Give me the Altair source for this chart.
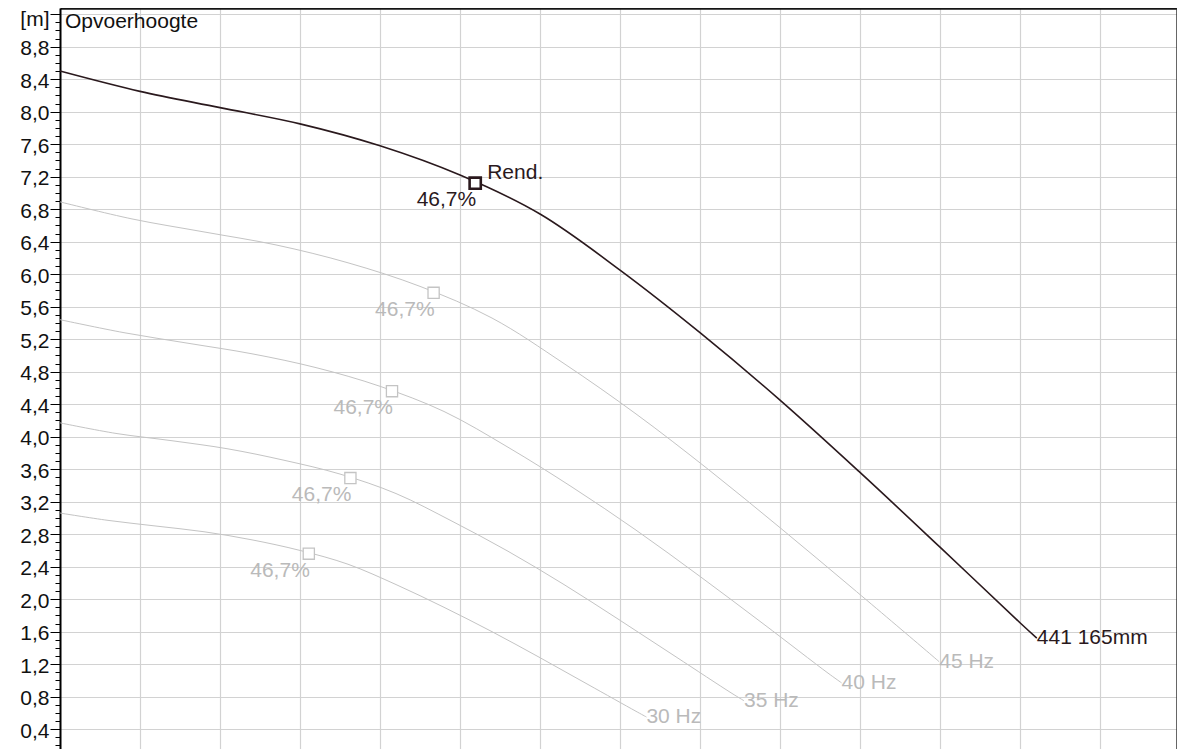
import altair as alt
import pandas as pd

# ---------------- data ----------------
curve_names = ["50 Hz", "45 Hz", "40 Hz", "35 Hz", "30 Hz"]
end_labels = ["441 165mm", "45 Hz", "40 Hz", "35 Hz", "30 Hz"]

q_50 = [0, 1, 2, 3, 4, 5, 6, 7, 8, 9, 10, 11, 12, 12.21]
h_50 = [8.50, 8.25, 8.05, 7.85, 7.58, 7.22, 6.74, 6.05, 5.28, 4.45, 3.56, 2.64, 1.71, 1.52]
q_45 = [0, 0.9, 1.8, 2.7, 3.6, 4.5, 5.4, 6.3, 7.2, 8.1, 9.0, 9.9, 10.8, 10.99]
h_45 = [6.89, 6.68, 6.52, 6.36, 6.14, 5.85, 5.46, 4.90, 4.28, 3.60, 2.88, 2.14, 1.39, 1.23]
q_40 = [0, 0.8, 1.6, 2.4, 3.2, 4.0, 4.8, 5.6, 6.4, 7.2, 8.0, 8.8, 9.6, 9.77]
h_40 = [5.44, 5.28, 5.15, 5.02, 4.85, 4.62, 4.31, 3.87, 3.38, 2.85, 2.28, 1.69, 1.09, 0.97]
q_35 = [0, 0.7, 1.4, 2.1, 2.8, 3.5, 4.2, 4.9, 5.6, 6.3, 7.0, 7.7, 8.4, 8.55]
h_35 = [4.17, 4.04, 3.95, 3.85, 3.71, 3.54, 3.30, 2.96, 2.59, 2.18, 1.74, 1.29, 0.84, 0.75]
q_30 = [0, 0.6, 1.2, 1.8, 2.4, 3.0, 3.6, 4.2, 4.8, 5.4, 6.0, 6.6, 7.2, 7.33]
h_30 = [3.06, 2.97, 2.90, 2.83, 2.73, 2.60, 2.43, 2.18, 1.90, 1.60, 1.28, 0.95, 0.62, 0.55]

bep_q = [5.19, 4.67, 4.15, 3.63, 3.11]
bep_h = [7.12, 5.77, 4.56, 3.49, 2.56]
bep_text = ["46,7%", "46,7%", "46,7%", "46,7%", "46,7%"]
bep_title = "Rend."
y_title = "Opvoerhoogte"
y_unit = "[m]"

major_ticks = [0.4, 0.8, 1.2, 1.6, 2.0, 2.4, 2.8, 3.2, 3.6, 4.0, 4.4, 4.8,
               5.2, 5.6, 6.0, 6.4, 6.8, 7.2, 7.6, 8.0, 8.4, 8.8, 9.2]
minor_ticks = [round(0.2 + 0.1 * i, 1) for i in range(91)]
x_grid = list(range(0, 14))

# ---------------- tables ----------------
curves = [(q_50, h_50), (q_45, h_45), (q_40, h_40), (q_35, h_35), (q_30, h_30)]
line_df = pd.DataFrame([
    {"curve": n, "i": i, "q": q, "h": h}
    for n, (qs, hs) in zip(curve_names, curves)
    for i, (q, h) in enumerate(zip(qs, hs))
])
end_df = pd.DataFrame({
    "curve": curve_names,
    "label": end_labels,
    "q": [qs[-1] for qs, _ in curves],
    "h": [hs[-1] for _, hs in curves],
})
bep_df = pd.DataFrame({"curve": curve_names, "q": bep_q, "h": bep_h, "label": bep_text})
title_df = pd.DataFrame({"q": [x_grid[0]], "h": [major_ticks[-1]], "label": [y_title]})

# ---------------- styles ----------------
DARK = "#2a191d"
GRAY_LINE = "#c4c4c4"
GRAY_TEXT = "#bababa"
GRID = "#d2d2d2"
FONT = "Liberation Sans"
FS = 21

x_scale = alt.Scale(domain=[0, 13.9625], nice=False, zero=False)
y_scale = alt.Scale(domain=[0.156, 9.276], nice=False, zero=False)

# top axis: vertical grid + top frame line
x_axis = alt.Axis(orient="top", values=x_grid, grid=True, gridColor=GRID, gridWidth=1.2,
                  ticks=False, labels=False, domain=True, domainColor="#151515",
                  domainWidth=2.5, title=None)
major_axis = alt.Axis(
    orient="left", values=major_ticks, grid=True, gridColor=GRID, gridWidth=1,
    tickSize=10, tickColor="#000000", tickWidth=1,
    domain=True, domainColor="#000000", domainWidth=2,
    labelFont=FONT, labelFontSize=FS, labelColor="#111111", labelPadding=1,
    labelOffset={"condition": {"test": "datum.value > 9", "value": 5}, "value": 2},
    labelOverlap=False, labelFlush=False,
    labelExpr=f"datum.value > 9 ? '{y_unit}' : replace(format(datum.value, '.1f'), '.', ',')",
    title=None,
)
minor_axis = alt.Axis(
    orient="left", values=minor_ticks, grid=False, tickSize=5,
    tickColor="#000000", tickWidth=1, labels=False, domain=False, title=None,
)
# right frame line
right_axis = alt.Axis(
    orient="right", grid=False, ticks=False, labels=False, domain=True,
    domainColor="#333333", domainWidth=2.5, title=None,
)

is_main = alt.datum.curve == curve_names[0]
X = alt.X("q:Q", scale=x_scale, axis=x_axis)

gray_lines = alt.Chart(line_df).transform_filter(~is_main).mark_line(
    color=GRAY_LINE, strokeWidth=1, interpolate="catmull-rom"
).encode(
    x=X,
    y=alt.Y("h:Q", scale=y_scale, axis=minor_axis),
    detail="curve:N",
    order="i:Q",
)

main_line = alt.Chart(line_df).transform_filter(is_main).mark_line(
    color=DARK, strokeWidth=1.6, interpolate="catmull-rom"
).encode(
    x=X,
    y=alt.Y("h:Q", scale=y_scale, axis=major_axis),
    order="i:Q",
)

def xy(axis=None):
    return dict(x=X, y=alt.Y("h:Q", scale=y_scale, axis=axis))

gray_markers = alt.Chart(bep_df).transform_filter(~is_main).mark_point(
    shape="square", size=125, fill="white", fillOpacity=1, stroke=GRAY_LINE,
    strokeWidth=1.3, opacity=1
).encode(**xy())

main_marker = alt.Chart(bep_df).transform_filter(is_main).mark_point(
    shape="square", size=125, fill="white", fillOpacity=1, stroke=DARK,
    strokeWidth=2.6, opacity=1
).encode(**xy())

text_color = alt.condition(is_main, alt.value(DARK), alt.value(GRAY_TEXT))

bep_labels = alt.Chart(bep_df).mark_text(
    align="right", baseline="middle", dy=17, dx=1, font=FONT, fontSize=FS
).encode(text="label:N", color=text_color, **xy())

rend_label = alt.Chart(bep_df).transform_filter(is_main).mark_text(
    text=bep_title, align="left", baseline="middle", dx=12, dy=-10,
    font=FONT, fontSize=FS, color=DARK
).encode(**xy())

end_text = alt.Chart(end_df).mark_text(
    align="left", baseline="middle", dx=0, font=FONT, fontSize=FS
).encode(text="label:N", color=text_color, **xy(right_axis))

title_text = alt.Chart(title_df).mark_text(
    align="left", baseline="alphabetic", dx=5, dy=14, font=FONT, fontSize=FS,
    color="#111111"
).encode(text="label:N", **xy())

chart = alt.layer(
    gray_lines, main_line, gray_markers, main_marker,
    bep_labels, rend_label, end_text, title_text,
).resolve_axis(y="independent").properties(
    width=1117, height=741,
    autosize=alt.AutoSizeParams(type="none"),
    padding={"left": 52, "top": 0, "right": 0, "bottom": 0},
).configure(font=FONT).configure_view(stroke=None)

chart.save("out.html", embed_options={"renderer": "svg", "actions": False})
